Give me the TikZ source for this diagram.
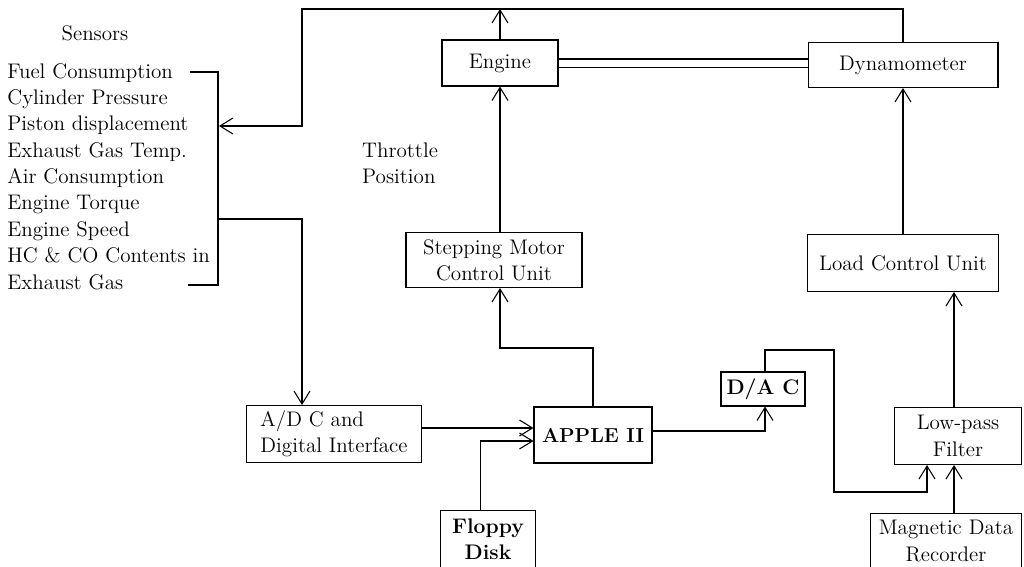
\documentclass[tikz,border=0pt]{standalone}
\usetikzlibrary{arrows.meta}

\tikzset{
  txt/.style={font=\fontsize{12}{15}\selectfont},
  blk/.style={txt, draw, line width=0.6pt, align=center, inner sep=2pt},
  wire/.style={line width=0.6pt},
  flow/.style={wire, -{Straight Barb[length=0.26cm, width=0.32cm]}}
}

\begin{document}
\begin{tikzpicture}[x=0.02cm, y=-0.02cm]
        \useasboundingbox (0,0) rectangle (1024,566);
        \clip (0,0) rectangle (1024,566);

        % sensors
        \node[txt] (senstitle) at (95,33) {Sensors};
        \node[txt, align=left, anchor=north west, inner sep=0pt] (senslist) at (7,63)
          {Fuel Consumption\\ Cylinder Pressure\\ Piston displacement\\
           Exhaust Gas Temp.\\ Air Consumption\\ Engine Torque\\ Engine Speed\\
           HC \& CO Contents in\\ Exhaust Gas};
        \coordinate (brtopL) at (190,72);
        \coordinate (brtop) at (218,72);
        \coordinate (brbot) at (218,285);
        \coordinate (brbotL) at (188,285);
        \coordinate (brin) at (219,126);
        \coordinate (brout) at (218,219);
        \coordinate (bus) at (302,219);
        \coordinate (loopL) at (302,9);

        % blocks
        \node[blk, minimum width=2.32cm, minimum height=0.92cm] (engine) at (500,63) {Engine};
        \node[blk, minimum width=3.8cm, minimum height=0.9cm] (dyna) at (903,65) {Dynamometer};
        \node[blk, minimum width=3.52cm, minimum height=1.1cm] (smcu) at (494,260) {Stepping Motor\\ Control Unit};
        \node[blk, minimum width=3.82cm, minimum height=1.14cm] (lcu) at (903,263) {Load Control Unit};
        \node[blk, minimum width=3.5cm, minimum height=1.14cm, align=left] (adc) at (334,434) {A/D C and\\ Digital Interface};
        \node[blk, minimum width=2.36cm, minimum height=1.12cm, font=\fontsize{11.5}{15}\selectfont\bfseries] (apple) at (593,435) {APPLE II};
        \node[blk, minimum width=1.68cm, minimum height=0.68cm, font=\fontsize{12}{15}\selectfont\bfseries] (dac) at (763,389) {D/A C};
        \node[blk, minimum width=2.54cm, minimum height=1.14cm] (lpf) at (958,436) {Low-pass\\ Filter};
        \node[blk, minimum width=3.02cm, minimum height=1.1cm, anchor=north] (mdr) at (946,513) {Magnetic Data\\ Recorder};
        \node[blk, minimum width=1.9cm, minimum height=1.16cm, anchor=north, font=\fontsize{12}{15}\selectfont\bfseries] (floppy) at (488,510) {Floppy\\ Disk};

        \node[txt, align=left, anchor=west] (throttle) at (356,163) {Throttle\\ Position};

        % connections
        \draw[wire] (brtopL) -- (brtop) -- (brbot) -- (brbotL);
        \draw[flow] (dyna.north) |- (loopL) |- (brin);
        \draw[flow] (engine.north) -- (engine.north |- loopL);
        \draw[flow] (brout) -- (bus) -- (bus |- adc.north);
        \draw[wire, double, double distance=0.14cm] (engine.east) -- (engine.east -| dyna.west);
        \draw[flow] (smcu.north -| engine.south) -- (engine.south);
        \draw[flow] (lcu.north) -- (lcu.north |- dyna.south);
        \draw[flow] (apple.north) |- ([yshift=-1.2cm]smcu.south -| engine.south) -- (smcu.south -| engine.south);
        \draw[flow] ([yshift=0.12cm]adc.east) -- ([yshift=0.12cm]adc.east -| apple.west);
        \draw[flow] ([xshift=-0.15cm]floppy.north) |- ([yshift=-0.12cm]apple.west);
        \draw[flow] ([yshift=0.08cm]apple.east) -| ([xshift=0.04cm]dac.south);
        \coordinate (bendA) at (834,350);
        \coordinate (bendB) at (927,492);
        \draw[flow] ([xshift=0.04cm]dac.north) |- (bendA) |- (bendB) -- (bendB |- lpf.south);
        \draw[flow] ([xshift=-0.08cm]lpf.south |- mdr.north) -- ([xshift=-0.08cm]lpf.south);
        \draw[flow] ([xshift=-0.08cm]lpf.north) -- ([xshift=-0.08cm]lpf.north |- lcu.south);

    \end{tikzpicture}
\end{document}
